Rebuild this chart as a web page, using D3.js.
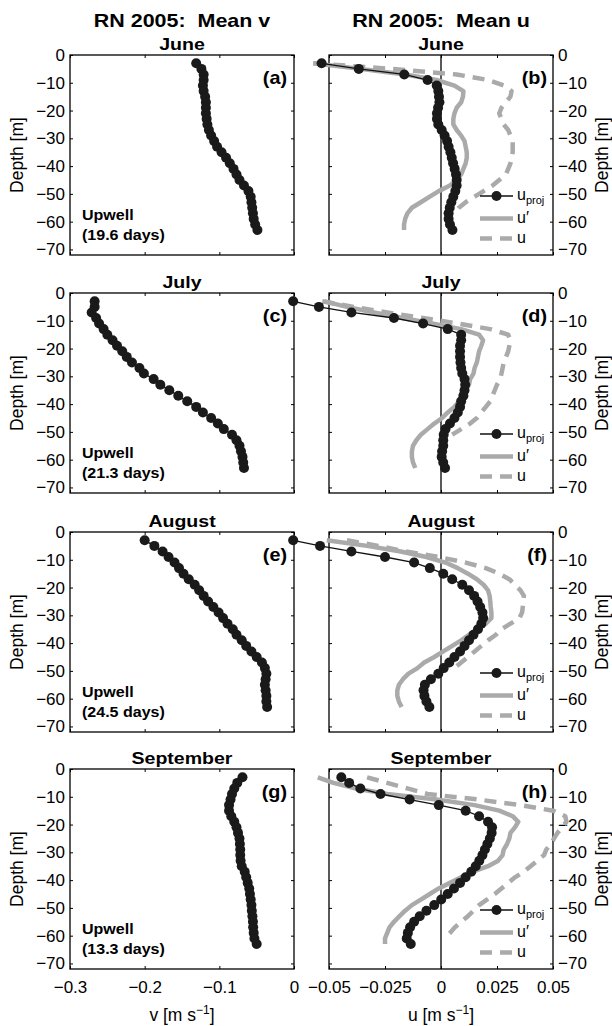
<!DOCTYPE html>
<html lang="en">
<head>
<meta charset="UTF-8">
<title>RN 2005: Mean v and Mean u</title>
<script src="https://d3js.org/d3.v7.min.js"></script>
<style>
  body { margin: 0; background: #fff; }
  svg { display: block; font-family: "Liberation Sans", Arial, Helvetica, sans-serif; }
</style>
</head>
<body>
<div id="chart"></div>
<script>
// depth of each bin [m]
const depth = [-3, -5, -7, -9, -11, -13, -15, -17, -19, -21, -23, -25, -27, -29, -31, -33,
               -35, -37, -39, -41, -43, -45, -47, -49, -51, -53, -55, -57, -59, -61, -63];

const months = ["June", "July", "August", "September"];
const upwellDays = ["19.6", "21.3", "24.5", "13.3"];
const leftTags = ["(a)", "(c)", "(e)", "(g)"];
const rightTags = ["(b)", "(d)", "(f)", "(h)"];

// mean v [m/s]
const vJune = [-0.131, -0.124, -0.121, -0.121, -0.122, -0.121, -0.119, -0.118, -0.118, -0.118, -0.117,
  -0.116, -0.114, -0.111, -0.107, -0.103, -0.097, -0.091, -0.086, -0.081, -0.077, -0.073, -0.067,
  -0.061, -0.058, -0.057, -0.056, -0.055, -0.054, -0.052, -0.049];
const vJuly = [-0.267, -0.267, -0.271, -0.265, -0.261, -0.255, -0.250, -0.243, -0.237, -0.230, -0.224,
  -0.217, -0.207, -0.201, -0.188, -0.179, -0.167, -0.155, -0.143, -0.131, -0.122, -0.111, -0.102,
  -0.094, -0.083, -0.077, -0.073, -0.071, -0.069, -0.068, -0.067];
const vAug = [-0.200, -0.187, -0.176, -0.168, -0.160, -0.154, -0.148, -0.141, -0.133, -0.127, -0.121,
  -0.115, -0.108, -0.101, -0.095, -0.089, -0.082, -0.077, -0.070, -0.064, -0.057, -0.050, -0.043,
  -0.039, -0.037, -0.038, -0.039, -0.038, -0.037, -0.037, -0.036];
const vSep = [-0.069, -0.076, -0.080, -0.083, -0.085, -0.087, -0.087, -0.084, -0.080, -0.077, -0.075,
  -0.073, -0.0725, -0.072, -0.072, -0.0715, -0.070, -0.066, -0.064, -0.062, -0.060, -0.059, -0.058,
  -0.057, -0.0565, -0.0557, -0.055, -0.0547, -0.054, -0.053, -0.050];

// u_proj [m/s]
const uprojJune = [-0.0533, -0.0367, -0.0164, -0.006, -0.0019, -0.0012, -0.0009, -0.0007, -0.0013, -0.0018,
  -0.0018, -0.0012, 0.0003, 0.0016, 0.0027, 0.0034, 0.0042, 0.0048, 0.0054, 0.0061, 0.0067, 0.0070,
  0.0070, 0.0064, 0.0055, 0.0046, 0.0039, 0.0034, 0.0034, 0.0040, 0.0051];
const uprojJuly = [-0.066, -0.0545, -0.040, -0.021, -0.008, 0.003, 0.009, 0.009, 0.0085, 0.0085, 0.0085,
  0.0087, 0.009, 0.0095, 0.0105, 0.0108, 0.0105, 0.010, 0.009, 0.0085, 0.0075, 0.006, 0.004, 0.002,
  0.0012, 0.001, 0.001, 0.0005, 0.0003, 0.001, 0.0018];
const uprojAug = [-0.066, -0.054, -0.040, -0.025, -0.012, -0.005, 0.001, 0.005, 0.0095, 0.0125, 0.0148,
  0.0163, 0.0175, 0.0185, 0.0188, 0.018, 0.0165, 0.0145, 0.0125, 0.0105, 0.0085, 0.006, 0.0037, 0.0012,
  -0.0012, -0.0045, -0.0072, -0.0078, -0.0074, -0.0065, -0.0052];
const uprojSep = [-0.0445, -0.041, -0.036, -0.027, -0.014, -0.001, 0.011, 0.017, 0.021, 0.0228, 0.0226,
  0.0218, 0.0207, 0.0196, 0.0185, 0.0171, 0.0155, 0.0135, 0.011, 0.0085, 0.0058, 0.003, 0.0001, -0.003,
  -0.0065, -0.0095, -0.012, -0.0138, -0.0148, -0.0153, -0.0135];

// u' [m/s]
const uprimeJune = [-0.057, -0.036, -0.016, -0.002, 0.006, 0.010, 0.0098, 0.009, 0.007, 0.006, 0.0055,
  0.0055, 0.007, 0.009, 0.0105, 0.011, 0.0115, 0.0115, 0.011, 0.010, 0.009, 0.007, 0.004, -0.001,
  -0.005, -0.009, -0.013, -0.015, -0.016, -0.0165, -0.0165];
const uprimeJuly = [-0.052, -0.042, -0.030, -0.017, -0.004, 0.009, 0.017, 0.0188, 0.018, 0.017, 0.0165,
  0.016, 0.015, 0.0145, 0.013, 0.0125, 0.011, 0.010, 0.008, 0.006, 0.003, 0.0005, -0.003, -0.006,
  -0.009, -0.011, -0.0125, -0.013, -0.013, -0.0125, -0.0115];
const uprimeAug = [-0.051, -0.033, -0.018, -0.0065, 0.002, 0.0075, 0.012, 0.016, 0.019, 0.021, 0.0217,
  0.022, 0.0222, 0.0225, 0.0225, 0.020, 0.0165, 0.0125, 0.009, 0.005, 0.001, -0.003, -0.0075, -0.0105,
  -0.0145, -0.017, -0.0188, -0.0195, -0.0195, -0.0188, -0.0176];
const uprimeSep = [-0.055, -0.048, -0.038, -0.024, -0.002, 0.015, 0.026, 0.032, 0.0345, 0.033, 0.031,
  0.0305, 0.0295, 0.028, 0.0275, 0.0255, 0.021, 0.014, 0.009, 0.004, -0.001, -0.005, -0.009, -0.013,
  -0.016, -0.0185, -0.021, -0.023, -0.024, -0.025, -0.025];

// u [m/s] (dashed), null where not drawn
const uJune = [-0.057, -0.022, 0.007, 0.021, 0.028, 0.0315, 0.031, 0.029, 0.027, 0.026, 0.027,
  0.028, 0.030, 0.031, 0.032, 0.032, 0.032, 0.0315, 0.031, 0.030, 0.029, 0.026, 0.023, 0.019,
  0.015, 0.011, 0.008, 0.006, null, null, null];
const uJuly = [-0.053, -0.039, -0.024, -0.008, 0.0075, 0.022, 0.030, 0.031, 0.0305, 0.030, 0.029,
  0.028, 0.0275, 0.027, 0.0264, 0.025, 0.024, 0.023, 0.022, 0.020, 0.018, 0.016, 0.013, 0.009,
  0.005, null, null, null, null, null, null];
const uAug = [-0.042, -0.028, -0.016, -0.001, 0.011, 0.020, 0.026, 0.0305, 0.033, 0.0355, 0.037,
  0.0368, 0.0365, 0.0362, 0.035, 0.031, 0.027, 0.0245, 0.021, 0.018, 0.015, 0.012, 0.009, 0.006,
  null, null, null, null, null, null, null];
const uSep = [-0.033, -0.024, -0.015, -0.006, 0.0167, 0.0355, 0.050, 0.0555, 0.056, 0.054, 0.052,
  0.0505, 0.049, 0.047, 0.046, 0.043, 0.040, 0.037, 0.033, 0.030, 0.027, 0.024, 0.0205, 0.017,
  0.0145, 0.012, 0.009, 0.0062, 0.004, 0.0015, null];

const vSeries = [vJune, vJuly, vAug, vSep];
const uprojSeries = [uprojJune, uprojJuly, uprojAug, uprojSep];
const uprimeSeries = [uprimeJune, uprimeJuly, uprimeAug, uprimeSep];
const uSeries = [uJune, uJuly, uAug, uSep];

const depthTicks = [0, -10, -20, -30, -40, -50, -60, -70];
const vTicks = [-0.3, -0.2, -0.1, 0];
const uTicks = [-0.05, -0.025, 0, 0.025, 0.05];

const width = 612, height = 1026;
const rowTop = [55, 293, 532, 769];
const panelH = 200;
const gray = "#aaaaaa";
const dotR = 5;
const fmt = d3.format("~g");

const svg = d3.select("#chart").append("svg")
    .attr("width", width)
    .attr("height", height);

const xV = d3.scaleLinear().domain([-0.3, 0]).range([70, 294]);
const xU = d3.scaleLinear().domain([-0.05, 0.05]).range([329, 553]);

// text that is a little wider than the font, like the original figure
function label(x, y, str, size, anchor, sx, bold) {
    return svg.append("text")
        .attr("transform", `translate(${x},${y}) scale(${sx},1)`)
        .attr("text-anchor", anchor)
        .attr("font-size", size)
        .attr("font-weight", bold ? "bold" : null)
        .text(str);
}

function frame(x, y, ticks, labelSide, showX) {
    const g = svg.append("g");
    const [x0, x1] = x.range();
    const [y0, y1] = y.range();

    g.append("g").attr("transform", `translate(0,${y1})`)
        .call(d3.axisBottom(x).tickValues(ticks).tickSize(-3).tickSizeOuter(0)
            .tickPadding(12).tickFormat(showX ? fmt : ""));
    g.append("g").attr("transform", `translate(0,${y0})`)
        .call(d3.axisTop(x).tickValues(ticks).tickSize(-3).tickSizeOuter(0).tickFormat(""));
    g.append("g").attr("transform", `translate(${x0},0)`)
        .call(d3.axisLeft(y).tickValues(depthTicks).tickSize(-3).tickSizeOuter(0)
            .tickPadding(5).tickFormat(labelSide === "left" ? fmt : ""));
    g.append("g").attr("transform", `translate(${x1},0)`)
        .call(d3.axisRight(y).tickValues(depthTicks).tickSize(-3).tickSizeOuter(0)
            .tickPadding(5).tickFormat(labelSide === "right" ? fmt : ""));

    g.selectAll(".domain").remove();
    g.selectAll(".tick line").attr("stroke", "#000").attr("stroke-width", 1);
    g.selectAll("text").attr("font-size", 17).attr("font-family", null).attr("fill", "#000");

    g.append("rect")
        .attr("x", x0).attr("y", y0)
        .attr("width", x1 - x0).attr("height", y1 - y0)
        .attr("fill", "none").attr("stroke", "#000").attr("stroke-width", 1.3);
}

function depthLabel(cx, cy) {
    svg.append("text")
        .attr("transform", `translate(${cx},${cy}) rotate(-90)`)
        .attr("text-anchor", "middle")
        .attr("font-size", 17.5)
        .text("Depth [m]");
}

function profile(values) {
    return depth.map((d, i) => ({ d: d, v: values[i] }));
}

function dots(x, y, values) {
    const pts = profile(values);
    svg.append("path")
        .attr("d", d3.line().x(p => x(p.v)).y(p => y(p.d))(pts))
        .attr("fill", "none").attr("stroke", "#111").attr("stroke-width", 1.3);
    svg.append("g").selectAll("circle")
        .data(pts)
        .join("circle")
        .attr("cx", p => x(p.v))
        .attr("cy", p => y(p.d))
        .attr("r", dotR)
        .attr("fill", "#1a1a1a");
}

function grayLine(x, y, values, dashed) {
    const line = d3.line().defined(p => p.v !== null).x(p => x(p.v)).y(p => y(p.d));
    svg.append("path")
        .attr("d", line(profile(values)))
        .attr("fill", "none")
        .attr("stroke", gray)
        .attr("stroke-width", 4.5)
        .attr("stroke-linejoin", "round")
        .attr("stroke-dasharray", dashed ? "12,8" : null);
}

// column titles
label(182, 27, "RN 2005:\u00a0 Mean v", 19, "middle", 1.13, true);
label(441, 27, "RN 2005:\u00a0 Mean u", 19, "middle", 1.13, true);

months.forEach((month, i) => {
    const top = rowTop[i];
    const y = d3.scaleLinear().domain([0, -72]).range([top, top + panelH]);
    const last = i === months.length - 1;

    // ---- left: mean v ----
    frame(xV, y, vTicks, "left", last);
    depthLabel(23, top + panelH / 2);
    label(182, top - 5, month, 17, "middle", 1.15, true);
    label(287, top + 29, leftTags[i], 18, "end", 1.1, true);
    label(82, top + 165, "Upwell", 15, "start", 1.07, true);
    label(82, top + 185, `(${upwellDays[i]} days)`, 15, "start", 1.07, true);
    dots(xV, y, vSeries[i]);

    // ---- right: mean u ----
    frame(xU, y, uTicks, "right", last);
    depthLabel(608, top + panelH / 2);
    label(441, top - 5, month, 17, "middle", 1.15, true);
    svg.append("line")
        .attr("x1", xU(0)).attr("x2", xU(0)).attr("y1", top).attr("y2", top + panelH)
        .attr("stroke", "#000").attr("stroke-width", 1.3);
    label(547, top + 29, rightTags[i], 18, "end", 1.1, true);

    grayLine(xU, y, uSeries[i], true);
    grayLine(xU, y, uprimeSeries[i], false);
    dots(xU, y, uprojSeries[i]);

    // legend
    const lx0 = 480, lx1 = 513, tx = 517;
    const ly = [top + 141, top + 163.5, top + 183.5];
    svg.append("line").attr("x1", lx0).attr("x2", lx1).attr("y1", ly[0]).attr("y2", ly[0])
        .attr("stroke", "#111").attr("stroke-width", 1.3);
    svg.append("circle").attr("cx", (lx0 + lx1) / 2).attr("cy", ly[0]).attr("r", dotR).attr("fill", "#1a1a1a");
    svg.append("line").attr("x1", lx0).attr("x2", lx1).attr("y1", ly[1]).attr("y2", ly[1])
        .attr("stroke", gray).attr("stroke-width", 4.5);
    svg.append("line").attr("x1", lx0).attr("x2", lx1).attr("y1", ly[2]).attr("y2", ly[2])
        .attr("stroke", gray).attr("stroke-width", 4.5).attr("stroke-dasharray", "12,8");

    const t0 = svg.append("text").attr("x", tx).attr("y", ly[0] + 4).attr("font-size", 16);
    t0.append("tspan").text("u");
    t0.append("tspan").attr("dy", 4).attr("font-size", 11).text("proj");
    svg.append("text").attr("x", tx).attr("y", ly[1] + 4).attr("font-size", 16).text("u\u2032");
    svg.append("text").attr("x", tx).attr("y", ly[2] + 4).attr("font-size", 16).text("u");
});

// x-axis titles
const vt = svg.append("text").attr("x", 182).attr("y", 1021).attr("text-anchor", "middle").attr("font-size", 17.5);
vt.append("tspan").text("v [m s");
vt.append("tspan").attr("dy", -7).attr("font-size", 12).text("\u22121");
vt.append("tspan").attr("dy", 7).text("]");
const ut = svg.append("text").attr("x", 441).attr("y", 1021).attr("text-anchor", "middle").attr("font-size", 17.5);
ut.append("tspan").text("u [m s");
ut.append("tspan").attr("dy", -7).attr("font-size", 12).text("\u22121");
ut.append("tspan").attr("dy", 7).text("]");
</script>
</body>
</html>
